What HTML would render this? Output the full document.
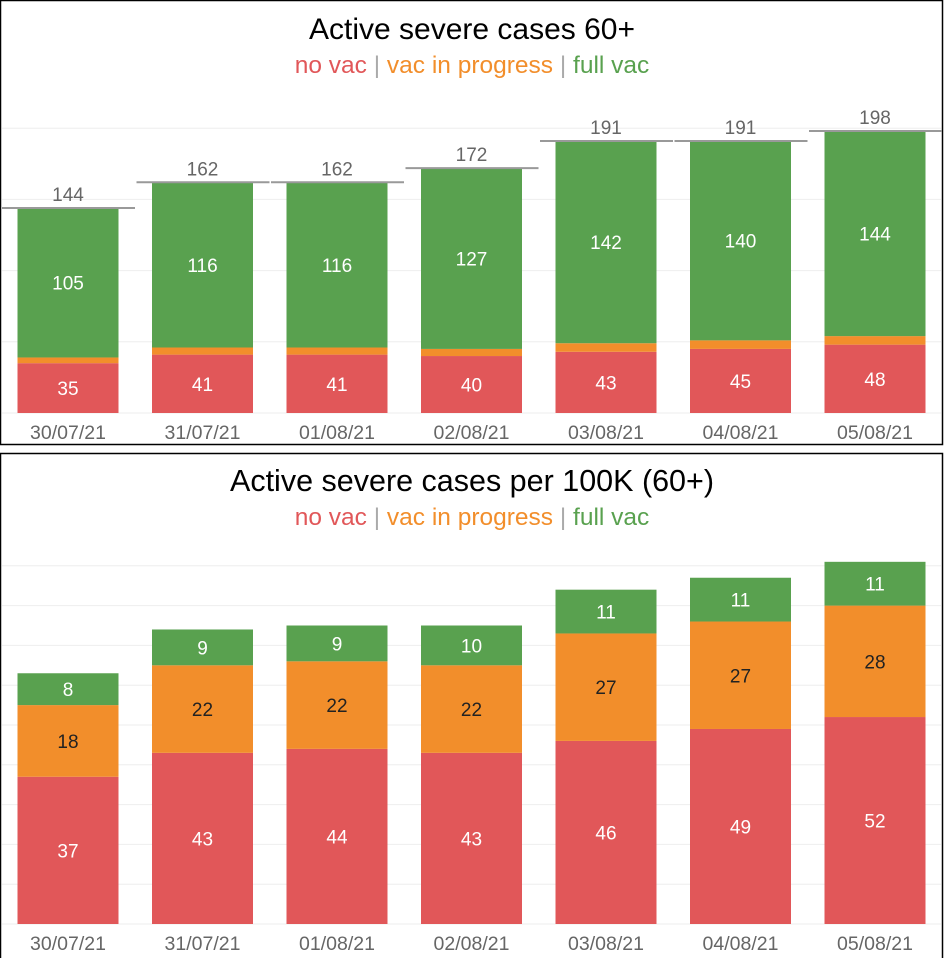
<!DOCTYPE html>
<html><head><meta charset="utf-8"><style>
html,body{margin:0;padding:0;background:#fff;width:944px;height:958px;overflow:hidden}
svg{display:block;font-family:"Liberation Sans",sans-serif}
</style></head><body>
<svg id="s" width="944" height="958" viewBox="0 0 944 958">
<rect x="0.5" y="0.5" width="942" height="444" fill="none" stroke="#000" stroke-width="1.5"/>
<rect x="0.5" y="453.5" width="942" height="510" fill="none" stroke="#000" stroke-width="1.5"/>
<text x="472" y="39" text-anchor="middle" font-size="30" fill="#000">Active severe cases 60+</text>
<text x="472" y="73" text-anchor="middle" font-size="24.5"><tspan fill="#e15759">no vac</tspan><tspan fill="#aaa"> | </tspan><tspan fill="#f28e2b">vac in progress</tspan><tspan fill="#aaa"> | </tspan><tspan fill="#59a14f">full vac</tspan></text>
<text x="472" y="491" text-anchor="middle" font-size="30.5" fill="#000">Active severe cases per 100K (60+)</text>
<text x="472" y="525" text-anchor="middle" font-size="24.5"><tspan fill="#e15759">no vac</tspan><tspan fill="#aaa"> | </tspan><tspan fill="#f28e2b">vac in progress</tspan><tspan fill="#aaa"> | </tspan><tspan fill="#59a14f">full vac</tspan></text>
<g id="top"></g>
<g id="bot"></g>
</svg>
<script>
const dates = ["30/07/21","31/07/21","01/08/21","02/08/21","03/08/21","04/08/21","05/08/21"];
const topNoVac = [35,41,41,40,43,45,48];
const topInProgress = [4,5,5,5,6,6,6];
const topFullVac = [105,116,116,127,142,140,144];
const topTotals = [144,162,162,172,191,191,198];
const topGridTicks = [0,50,100,150,200];
const botNoVac = [37,43,44,43,46,49,52];
const botInProgress = [18,22,22,22,27,27,28];
const botFullVac = [8,9,9,10,11,11,11];
const botGridTicks = [0,10,20,30,40,50,60,70,80,90];

const NS="http://www.w3.org/2000/svg";
const COLORS=["#e15759","#f28e2b","#59a14f"];
const TXT=["#fff","#222","#fff"];
function mk(tag,attrs,parent){const e=document.createElementNS(NS,tag);for(const k in attrs)e.setAttribute(k,attrs[k]);parent.appendChild(e);return e;}
function xCenter(i){return 68+i*134.5;}
function drawChart(g,base,scale,series,gridTicks,totals,labelY,prefix){
  const y=v=>base-v*scale;
  gridTicks.forEach(t=>{
    const l=mk("line",{x1:2,x2:941,y1:y(t),y2:y(t),stroke:"#eee","stroke-width":1},g);
    
    
  });
  dates.forEach((d,i)=>{
    let acc=0;
    series.forEach((s,k)=>{
      const v=s[i];
      const r=mk("rect",{x:xCenter(i)-50.5,width:101,y:y(acc+v),height:v*scale,fill:COLORS[k]},g);
      
      
      if(k!==1 || prefix==='bottom'){
        const t=mk("text",{x:xCenter(i),y:y(acc+v/2)+7,"text-anchor":"middle","font-size":19,fill:TXT[k]},g);
        t.textContent=v;
        
        
      }
      acc+=v;
    });
    if(totals){
      const ty=y(totals[i]);
      const l=mk("line",{x1:xCenter(i)-66,x2:xCenter(i)+67,y1:ty,y2:ty,stroke:"#999","stroke-width":2},g);
      
      
      const t=mk("text",{x:xCenter(i),y:ty-7,"text-anchor":"middle","font-size":19,fill:"#666"},g);
      t.textContent=totals[i];
      
      
    }
    const a=mk("text",{x:xCenter(i),y:labelY,"text-anchor":"middle","font-size":19.5,fill:"#666"},g);
    a.textContent=d;
    
    
  });
}
drawChart(document.getElementById("top"),413,1.424,[topNoVac,topInProgress,topFullVac],topGridTicks,topTotals,439,'top');
drawChart(document.getElementById("bot"),924,3.98,[botNoVac,botInProgress,botFullVac],botGridTicks,null,950,'bottom');
</script>
</body></html>
